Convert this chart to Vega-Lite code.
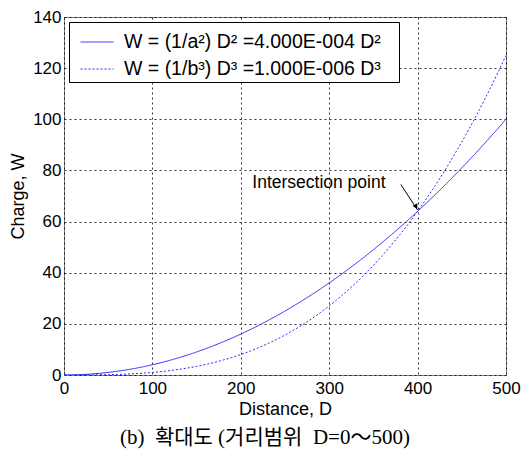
{
  "$schema": "https://vega.github.io/schema/vega-lite/v6.json",
  "width": 442,
  "height": 358,
  "autosize": {"type": "none"},
  "padding": {"left": 64, "top": 17, "right": 21, "bottom": 80},
  "background": "white",
  "config": {
    "font": "Liberation Sans",
    "view": {"stroke": "#808080", "strokeWidth": 1},
    "axis": {
      "labelFont": "Liberation Sans", "labelFontSize": 17, "labelColor": "black",
      "titleFont": "Liberation Sans", "titleFontSize": 18, "titleFontWeight": "normal", "titleColor": "black",
      "gridColor": "black", "gridDash": [2, 3], "gridOpacity": 0.8, "gridWidth": 1,
      "domain": false, "ticks": false, "labelFlush": false
    },
    "legend": {
      "orient": "none", "legendX": 5, "legendY": 5,
      "strokeColor": "black", "fillColor": "white", "padding": 3,
      "labelFont": "Liberation Sans", "labelFontSize": 19.5, "labelColor": "black", "labelLimit": 500,
      "symbolType": "stroke", "symbolSize": 1089, "symbolStrokeWidth": 1, "symbolOffset": 8,
      "symbolStrokeColor": "#2a2aff", "labelOffset": 10, "rowPadding": 0
    }
  },
  "title": {
    "text": "(b)\u00a0\u00a0확대도 (거리범위\u00a0\u00a0D=0～500)",
    "orient": "bottom", "frame": "bounds", "anchor": "middle",
    "font": "Liberation Serif, Noto Sans CJK KR", "fontSize": 21, "fontWeight": "normal",
    "color": "black", "offset": 9
  },
  "layer": [
    {
      "data": {
        "values": [
          {"D": 0, "q": 0, "c": 0},
          {"D": 10, "q": 0.04, "c": 0.001},
          {"D": 20, "q": 0.16, "c": 0.008},
          {"D": 30, "q": 0.36, "c": 0.027},
          {"D": 40, "q": 0.64, "c": 0.064},
          {"D": 50, "q": 1, "c": 0.125},
          {"D": 60, "q": 1.44, "c": 0.216},
          {"D": 70, "q": 1.96, "c": 0.343},
          {"D": 80, "q": 2.56, "c": 0.512},
          {"D": 90, "q": 3.24, "c": 0.729},
          {"D": 100, "q": 4, "c": 1},
          {"D": 110, "q": 4.84, "c": 1.331},
          {"D": 120, "q": 5.76, "c": 1.728},
          {"D": 130, "q": 6.76, "c": 2.197},
          {"D": 140, "q": 7.84, "c": 2.744},
          {"D": 150, "q": 9, "c": 3.375},
          {"D": 160, "q": 10.24, "c": 4.096},
          {"D": 170, "q": 11.56, "c": 4.913},
          {"D": 180, "q": 12.96, "c": 5.832},
          {"D": 190, "q": 14.44, "c": 6.859},
          {"D": 200, "q": 16, "c": 8},
          {"D": 210, "q": 17.64, "c": 9.261},
          {"D": 220, "q": 19.36, "c": 10.648},
          {"D": 230, "q": 21.16, "c": 12.167},
          {"D": 240, "q": 23.04, "c": 13.824},
          {"D": 250, "q": 25, "c": 15.625},
          {"D": 260, "q": 27.04, "c": 17.576},
          {"D": 270, "q": 29.16, "c": 19.683},
          {"D": 280, "q": 31.36, "c": 21.952},
          {"D": 290, "q": 33.64, "c": 24.389},
          {"D": 300, "q": 36, "c": 27},
          {"D": 310, "q": 38.44, "c": 29.791},
          {"D": 320, "q": 40.96, "c": 32.768},
          {"D": 330, "q": 43.56, "c": 35.937},
          {"D": 340, "q": 46.24, "c": 39.304},
          {"D": 350, "q": 49, "c": 42.875},
          {"D": 360, "q": 51.84, "c": 46.656},
          {"D": 370, "q": 54.76, "c": 50.653},
          {"D": 380, "q": 57.76, "c": 54.872},
          {"D": 390, "q": 60.84, "c": 59.319},
          {"D": 400, "q": 64, "c": 64},
          {"D": 410, "q": 67.24, "c": 68.921},
          {"D": 420, "q": 70.56, "c": 74.088},
          {"D": 430, "q": 73.96, "c": 79.507},
          {"D": 440, "q": 77.44, "c": 85.184},
          {"D": 450, "q": 81, "c": 91.125},
          {"D": 460, "q": 84.64, "c": 97.336},
          {"D": 470, "q": 88.36, "c": 103.823},
          {"D": 480, "q": 92.16, "c": 110.592},
          {"D": 490, "q": 96.04, "c": 117.649},
          {"D": 500, "q": 100, "c": 125}
        ]
      },
      "transform": [{"fold": ["q", "c"], "as": ["series", "W"]}],
      "mark": {"type": "line", "color": "#2a2aff", "strokeWidth": 1, "clip": true},
      "encoding": {
        "x": {"field": "D", "type": "quantitative", "scale": {"domain": [0, 500], "nice": false}, "axis": {"values": [0, 100, 200, 300, 400, 500], "title": "Distance, D", "labelPadding": 5, "titlePadding": 4}},
        "y": {"field": "W", "type": "quantitative", "scale": {"domain": [0, 140], "nice": false}, "axis": {"values": [0, 20, 40, 60, 80, 100, 120, 140], "title": "Charge, W", "labelPadding": 3, "titlePadding": 5}},
        "strokeDash": {
          "field": "series", "type": "nominal",
          "scale": {"domain": ["q", "c"], "range": [[1, 0], [2, 2]]},
          "legend": {"title": null, "labelExpr": "datum.label == 'q' ? 'W = (1/a²) D² =4.000E-004 D²\u2800' : 'W = (1/b³) D³ =1.000E-006 D³\u2800'"}
        }
      }
    },
    {
      "data": {"values": [{"x1": 381, "y1": 74.5, "x2": 400, "y2": 64.5}]},
      "mark": {"type": "rule", "color": "black", "strokeWidth": 1},
      "encoding": {
        "x": {"field": "x1", "type": "quantitative"},
        "y": {"field": "y1", "type": "quantitative"},
        "x2": {"field": "x2"},
        "y2": {"field": "y2"}
      }
    },
    {
      "data": {"values": [{"x": 398.3, "y": 65.8}]},
      "mark": {"type": "point", "shape": "triangle-up", "filled": true, "color": "black", "opacity": 1, "size": 30, "angle": 152},
      "encoding": {
        "x": {"field": "x", "type": "quantitative"},
        "y": {"field": "y", "type": "quantitative"}
      }
    },
    {
      "data": {"values": [{"x": 213, "y": 75, "label": "Intersection point"}]},
      "mark": {"type": "text", "align": "left", "baseline": "middle", "font": "Liberation Sans", "fontSize": 17.5, "color": "black"},
      "encoding": {
        "x": {"field": "x", "type": "quantitative"},
        "y": {"field": "y", "type": "quantitative"},
        "text": {"field": "label"}
      }
    }
  ]
}
